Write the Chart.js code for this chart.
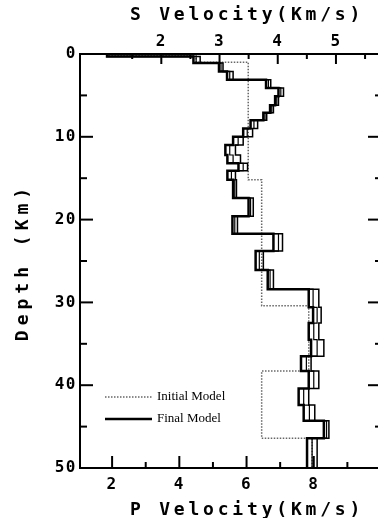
<!DOCTYPE html>
<html>
<head>
<meta charset="utf-8">
<script src="https://cdn.jsdelivr.net/npm/chart.js@4.4.0/dist/chart.umd.min.js"></script>
<style>
  html, body { margin: 0; padding: 0; background: #fff; overflow: hidden; }
  #wrap { width: 378px; height: 518px; overflow: hidden; }
</style>
</head>
<body>
<div id="wrap"><canvas id="perfil" width="382" height="518"></canvas></div>
<script>
var maxDepth = 50;
var depthTicks = [0, 10, 20, 30, 40, 50];
var depthMinor = [5, 15, 25, 35, 45];
var pTicks = [2, 4, 6, 8];
var pMinor = [3, 5, 7, 9];
var sTicks = [2, 3, 4, 5];
var sMinor = [1.5, 2.5, 3.5, 4.5, 5.5];
var pMin = 1.045, pMax = 10.03;

// modelo inicial (tope de capa en km, Vp en km/s)
var initTops = [0, 0.2, 1.0, 15.2, 30.4, 38.3, 46.4];
var initP = [1.85, 4.5, 6.05, 6.45, 7.85, 6.45, 7.95];

// modelos finales
var finalTops = [0, 0.3, 1.1, 2.1, 3.1, 4.1, 5.1, 6.2, 7.1, 8.0, 9.0, 10.0, 11.0, 12.2, 13.2, 14.1,
                 15.2, 17.4, 19.6, 21.7, 23.8, 26.1, 28.4, 30.6, 32.5, 34.5, 36.5, 38.3, 40.4, 42.4, 44.3, 46.4];
var finalP1 = [1.85, 4.42, 5.18, 5.42, 6.58, 6.95, 6.85, 6.70, 6.50, 6.12, 5.90, 5.60, 5.37, 5.43, 5.76, 5.43,
               5.60, 6.06, 5.58, 6.80, 6.27, 6.63, 7.85, 7.98, 7.85, 7.92, 7.62, 7.85, 7.55, 7.70, 8.30, 7.80];
var finalP2 = [1.85, 4.62, 5.30, 5.60, 6.72, 7.10, 6.95, 6.80, 6.60, 6.33, 6.18, 5.90, 5.67, 5.82, 6.03, 5.67,
               5.70, 6.20, 5.73, 7.07, 6.50, 6.80, 8.15, 8.22, 8.15, 8.30, 7.92, 8.15, 7.85, 8.03, 8.45, 8.10];
var finalP3 = [1.85, 4.50, 5.24, 5.50, 6.65, 7.02, 6.90, 6.75, 6.55, 6.22, 6.02, 5.75, 5.50, 5.60, 5.90, 5.55,
               5.65, 6.12, 5.65, 6.95, 6.38, 6.70, 7.98, 8.10, 8.00, 8.10, 7.78, 8.00, 7.70, 7.87, 8.38, 7.95];

var plotFont = 'DejaVu Sans Mono';

function escalones(tops, vals) {
    var pts = [];
    tops.forEach(function (t, i) {
        var base = i + 1 < tops.length ? tops[i + 1] : maxDepth;
        pts.push({ x: vals[i], y: t });
        pts.push({ x: vals[i], y: base });
    });
    return pts;
}

function fijarTicks(valores) {
    return function (scale) {
        scale.ticks = valores.map(function (v) { return { value: v }; });
    };
}

var marcas = {
    id: 'marcas',
    beforeDraw: function (chart) {
        chart.ctx.letterSpacing = '1.5px';
    },
    afterDraw: function (chart) {
        var ctx = chart.ctx, a = chart.chartArea;
        var sp = chart.scales.x, ss = chart.scales.s, sy = chart.scales.y;
        ctx.letterSpacing = '0px';
        ctx.save();
        ctx.strokeStyle = '#000';
        ctx.lineWidth = 2;
        function seg(x1, y1, x2, y2) {
            ctx.beginPath(); ctx.moveTo(x1, y1); ctx.lineTo(x2, y2); ctx.stroke();
        }
        depthTicks.forEach(function (v) {
            var y = sy.getPixelForValue(v);
            seg(a.left, y, a.left + 13, y);
            if (v > 0 && v < maxDepth) seg(a.right, y, a.right - 14, y);
        });
        depthMinor.forEach(function (v) {
            var y = sy.getPixelForValue(v);
            seg(a.left, y, a.left + 7, y);
            seg(a.right, y, a.right - 7, y);
        });
        sTicks.forEach(function (v) { var x = ss.getPixelForValue(v); seg(x, a.top, x, a.top + 10); });
        sMinor.forEach(function (v) { var x = ss.getPixelForValue(v); seg(x, a.top, x, a.top + 5); });
        pTicks.forEach(function (v) { var x = sp.getPixelForValue(v); seg(x, a.bottom, x, a.bottom - 12); });
        pMinor.forEach(function (v) { var x = sp.getPixelForValue(v); seg(x, a.bottom, x, a.bottom - 6); });

        // leyenda
        var ds = chart.data.datasets;
        [ds[0], ds[1]].forEach(function (d, i) {
            var y = 397 + i * 22;
            ctx.save();
            ctx.strokeStyle = d.borderColor;
            ctx.lineWidth = d.borderWidth;
            ctx.setLineDash(d.borderDash || []);
            seg(105, y, 152, y);
            ctx.restore();
            ctx.fillStyle = '#000';
            ctx.font = '13px "Liberation Serif"';
            ctx.textAlign = 'left';
            ctx.textBaseline = 'middle';
            ctx.fillText(d.label, 157, y);
        });

        // titulos
        ctx.fillStyle = '#000';
        ctx.font = 'bold 18px "' + plotFont + '"';
        ctx.letterSpacing = '3.8px';
        ctx.textAlign = 'center';
        ctx.textBaseline = 'middle';
        ctx.fillText('S Velocity(Km/s)', 247, 15);
        ctx.fillText('P Velocity(Km/s)', 247, 510);
        ctx.translate(23, 264);
        ctx.rotate(-Math.PI / 2);
        ctx.letterSpacing = '5px';
        ctx.fillText('Depth (Km)', 2, 0);
        ctx.restore();
    }
};

var tickFont = { family: plotFont, size: 16, weight: 'bold' };

var ctx = document.getElementById('perfil');
var grafico = new Chart(ctx, {
    type: 'scatter',
    data: {
        datasets: [
            { label: 'Initial Model', data: escalones(initTops, initP), borderColor: '#666', borderWidth: 1.5, borderDash: [1.5, 1.5], order: 5 },
            { label: 'Final Model', data: escalones(finalTops, finalP1), borderColor: '#000', borderWidth: 2.5, order: 1 },
            { label: 'Final Model 2', data: escalones(finalTops, finalP2), borderColor: '#000', borderWidth: 1.5, order: 2 },
            { label: 'Final Model 3', data: escalones(finalTops, finalP3), borderColor: '#000', borderWidth: 1.2, order: 3 }
        ]
    },
    options: {
        responsive: false,
        animation: false,
        devicePixelRatio: 1,
        showLine: true,
        elements: { point: { radius: 0 }, line: { tension: 0 } },
        layout: { padding: 0 },
        plugins: { legend: { display: false }, tooltip: { enabled: false } },
        scales: {
            x: {
                type: 'linear', position: 'bottom', min: pMin, max: pMax,
                afterBuildTicks: fijarTicks(pTicks),
                afterFit: function (s) { s.height = 50; },
                grid: { display: false, drawTicks: false },
                border: { display: true, width: 2, color: '#000' },
                ticks: { font: tickFont, color: '#000', padding: 7 }
            },
            s: {
                type: 'linear', position: 'top', axis: 'x',
                min: pMin / Math.sqrt(3), max: pMax / Math.sqrt(3),
                afterBuildTicks: fijarTicks(sTicks),
                afterFit: function (s) { s.height = 54; },
                grid: { display: false, drawTicks: false },
                border: { display: true, width: 2, color: '#000' },
                ticks: { font: tickFont, color: '#000', padding: 3 }
            },
            y: {
                type: 'linear', position: 'left', reverse: true, min: 0, max: maxDepth,
                afterBuildTicks: fijarTicks(depthTicks),
                afterFit: function (s) { s.width = 80; },
                grid: { display: false, drawTicks: false },
                border: { display: true, width: 2, color: '#000' },
                ticks: { font: tickFont, color: '#000', padding: 3 }
            }
        }
    },
    plugins: [marcas]
});
</script>
</body>
</html>
